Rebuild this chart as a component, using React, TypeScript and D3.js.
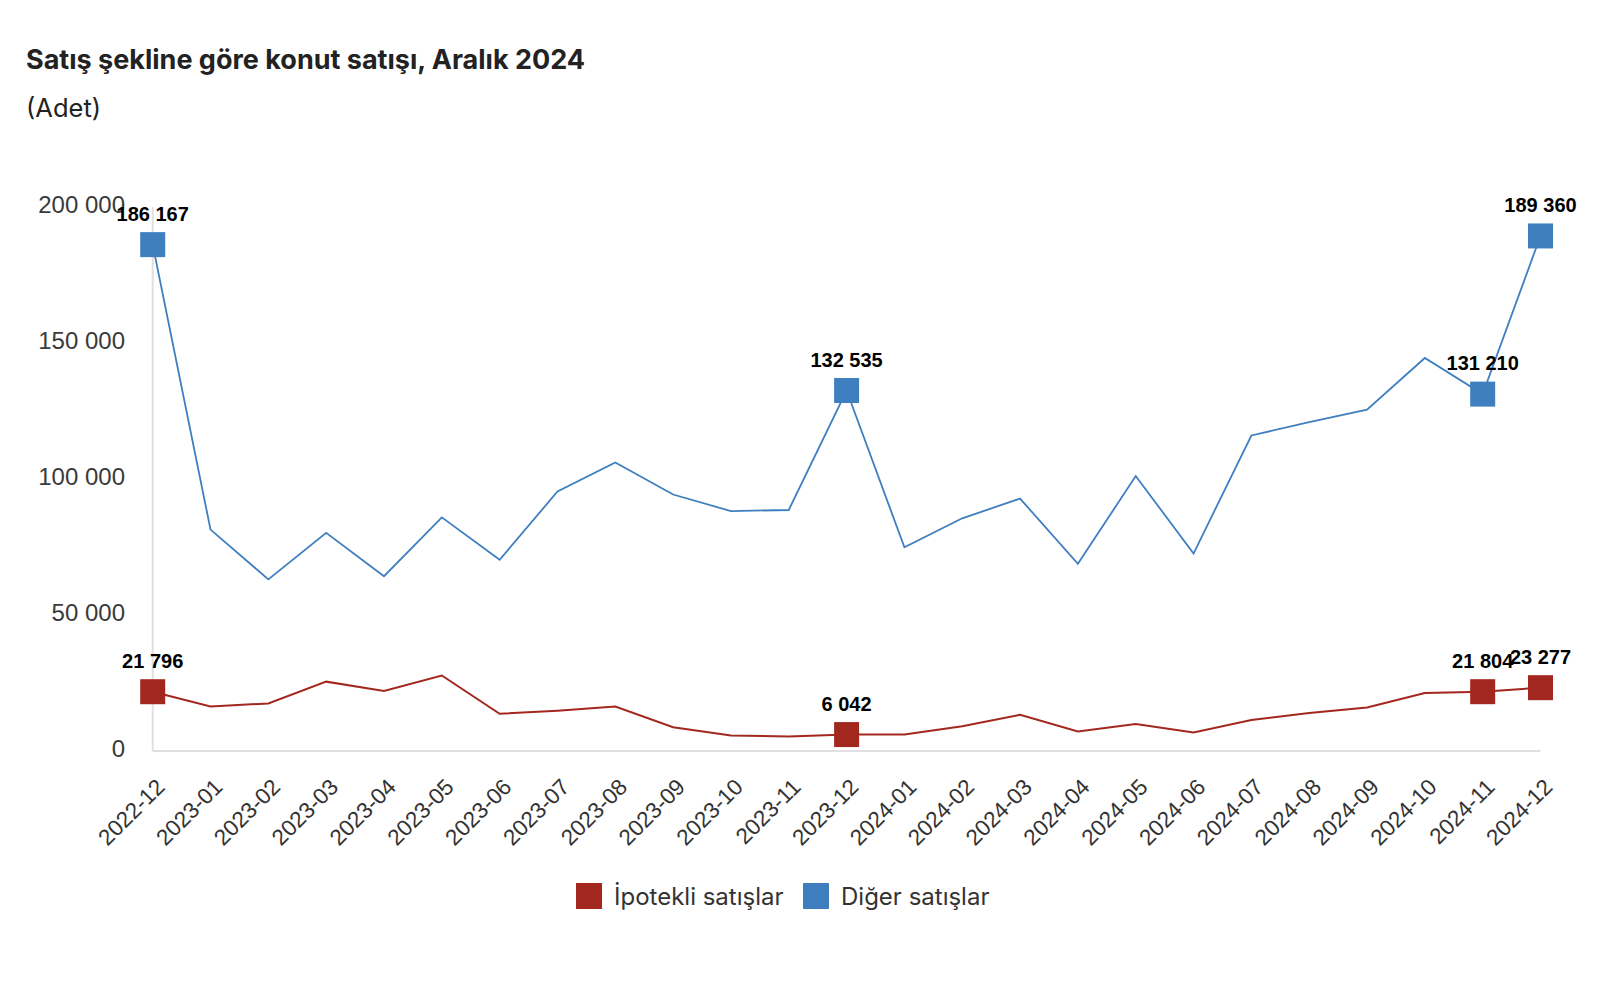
import * as d3 from "d3";
import React from "react";

const months = [
  "2022-12", "2023-01", "2023-02", "2023-03", "2023-04", "2023-05", "2023-06",
  "2023-07", "2023-08", "2023-09", "2023-10", "2023-11", "2023-12", "2024-01",
  "2024-02", "2024-03", "2024-04", "2024-05", "2024-06", "2024-07", "2024-08",
  "2024-09", "2024-10", "2024-11", "2024-12",
];

// İpotekli satışlar
const mortgageSales = [
  21796, 16350, 17500, 25500, 22050, 27750, 13700, 14800, 16350, 8750, 5700,
  5300, 6042, 6100, 9100, 13300, 7200, 9900, 6850, 11400, 14000, 16000, 21300,
  21804, 23277,
];

// Diğer satışlar
const otherSales = [
  186167, 81400, 63100, 80200, 64250, 85900, 70300, 95400, 106100, 94300,
  88200, 88600, 132535, 74900, 85550, 92800, 68800, 101100, 72600, 116000,
  120900, 125500, 144500, 131210, 189360,
];

// months that carry a marker and a value label
const labelledMonths = ["2022-12", "2023-12", "2024-11", "2024-12"];

const yTicks = [0, 50000, 100000, 150000, 200000];

const RED = "#a2281f";
const BLUE = "#3f7fc0";

const fmt = d3.formatLocale({
  decimal: ",",
  thousands: " ",
  grouping: [3],
  currency: ["", ""],
}).format(",d");

const width = 1616;
const height = 1006;

export default function App() {
  const x = d3.scalePoint<string>().domain(months).range([152.7, 1540.5]);
  const y = d3.scaleLinear().domain([0, 200000]).range([751, 207]);

  const line = d3
    .line<number>()
    .x((_, i) => x(months[i]) as number)
    .y((d) => y(d));

  const series = [
    { name: "İpotekli satışlar", values: mortgageSales, color: RED, w: 2 },
    { name: "Diğer satışlar", values: otherSales, color: BLUE, w: 1.8 },
  ];

  const axisFont = "'Liberation Sans', Arial, sans-serif";
  const titleFont = "Inter, 'Noto Sans', sans-serif";

  return (
    <div style={{ position: "fixed", left: 0, top: 0 }}>
      <svg width={width} height={height} style={{ display: "block", background: "#fff" }}>
        <text x={26} y={69} fontFamily={titleFont} fontWeight={700} fontSize={27} fill="#222">
          Satış şekline göre konut satışı, Aralık 2024
        </text>
        <text x={26} y={117} fontFamily={titleFont} fontSize={25.5} fill="#222">
          (Adet)
        </text>

        {/* axis lines */}
        <line x1={x(months[0])} x2={x(months[0])} y1={y(200000)} y2={y(0)} stroke="#e0e0e0" strokeWidth={2} />
        <line x1={x(months[0])} x2={x(months[months.length - 1])} y1={y(0)} y2={y(0)} stroke="#e0e0e0" strokeWidth={2} />

        {/* y tick labels */}
        {yTicks.map((t) => (
          <text
            key={t}
            x={125}
            y={y(t)}
            textAnchor="end"
            dominantBaseline="middle"
            fontFamily={axisFont}
            fontSize={24}
            fill="#3a3a3a"
          >
            {fmt(t)}
          </text>
        ))}

        {/* x tick labels */}
        {months.map((m) => (
          <text
            key={m}
            transform={`translate(${(x(m) as number) + 2},${y(0) + 26}) rotate(-45)`}
            textAnchor="end"
            dominantBaseline="hanging"
            fontFamily={axisFont}
            fontSize={22.5}
            fill="#333"
          >
            {m}
          </text>
        ))}

        {series.map((s) => (
          <g key={s.name}>
            <path d={line(s.values) ?? ""} fill="none" stroke={s.color} strokeWidth={s.w} />
            {labelledMonths.map((m) => {
              const i = months.indexOf(m);
              const cx = x(m) as number;
              const cy = y(s.values[i]);
              return (
                <g key={m}>
                  <rect x={cx - 12.5} y={cy - 12.5} width={25} height={25} fill={s.color} />
                  <text
                    x={cx}
                    y={cy - 24}
                    textAnchor="middle"
                    fontFamily={axisFont}
                    fontWeight={700}
                    fontSize={20}
                    fill="#000"
                  >
                    {fmt(s.values[i])}
                  </text>
                </g>
              );
            })}
          </g>
        ))}

        {/* legend */}
        <g fontFamily={titleFont} fontSize={24} fill="#333">
          <rect x={576} y={883} width={26} height={26} fill={RED} />
          <text x={614} y={905}>İpotekli satışlar</text>
          <rect x={803} y={883} width={26} height={26} fill={BLUE} />
          <text x={841} y={905}>Diğer satışlar</text>
        </g>
      </svg>
    </div>
  );
}
